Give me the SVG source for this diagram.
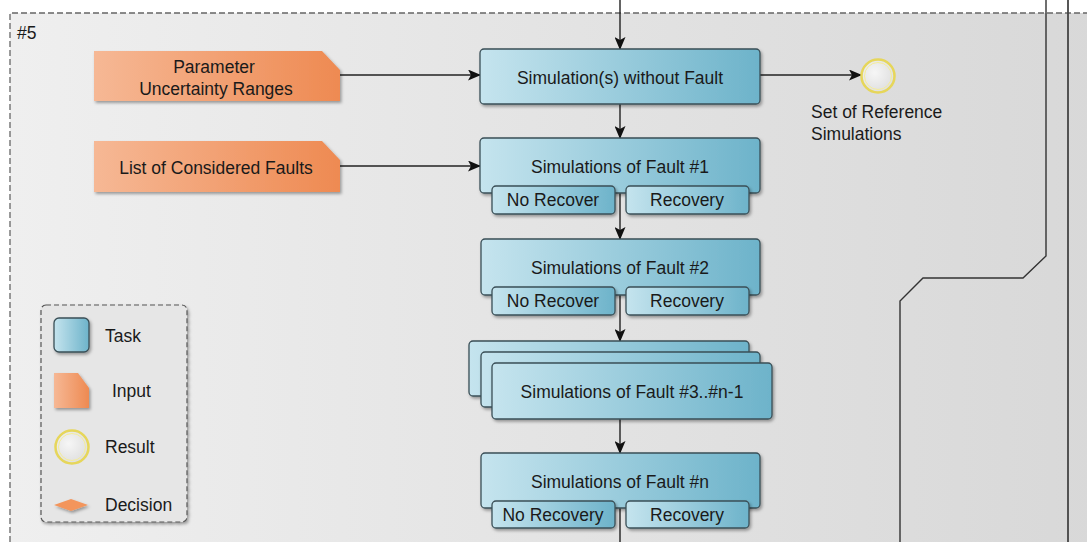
<svg xmlns="http://www.w3.org/2000/svg" width="1087" height="542" viewBox="0 0 1087 542">
<defs>
<linearGradient id="bg" x1="0" y1="0" x2="1" y2="0">
<stop offset="0" stop-color="#efefef"/><stop offset="1" stop-color="#d8d8d8"/>
</linearGradient>
<linearGradient id="task" x1="0" y1="0" x2="1" y2="0">
<stop offset="0" stop-color="#c5e4ee"/><stop offset="1" stop-color="#6db3ca"/>
</linearGradient>
<linearGradient id="inp" x1="0" y1="0" x2="1" y2="0">
<stop offset="0" stop-color="#f6b895"/><stop offset="1" stop-color="#ee8a52"/>
</linearGradient>
<radialGradient id="res" cx="0.4" cy="0.4" r="0.7">
<stop offset="0" stop-color="#f6f6f6"/><stop offset="1" stop-color="#dcdcdc"/>
</radialGradient>
<filter id="sh" x="-10%" y="-10%" width="130%" height="140%">
<feDropShadow dx="1.5" dy="2" stdDeviation="1.5" flood-color="#000" flood-opacity="0.35"/>
</filter>
<marker id="arr" markerWidth="13" markerHeight="11" refX="12" refY="5.5" orient="auto" markerUnits="userSpaceOnUse">
<path d="M0,0 L13,5.5 L0,11 L3,5.5 Z" fill="#111"/>
</marker>
</defs>
<style>
.t{font-family:"Liberation Sans",Arial,sans-serif;font-size:17.5px;fill:#1a1a1a}
.s{font-family:"Liberation Sans",Arial,sans-serif;font-size:17.5px;fill:#1a1a1a}
.task{fill:url(#task);stroke:#3a4f57;stroke-width:1.3;filter:url(#sh)}
.inp{fill:url(#inp);filter:url(#sh)}
.ln{stroke:#222;stroke-width:1.4;fill:none}
.ln2{stroke:#333;stroke-width:1.4;fill:none}
.rc{fill:url(#res);stroke:#e6d65a;stroke-width:2.5}
.ri{fill:none;stroke:#f5ed9a;stroke-width:1}
</style>
<rect x="0" y="0" width="1087" height="542" fill="#ffffff"/>
<rect x="10" y="13" width="1090" height="540" fill="url(#bg)"/>
<path d="M10,542 L10,13 L1087,13" fill="none" stroke="#666" stroke-width="1.3" stroke-dasharray="6,3"/>
<text class="s" x="17" y="39">#5</text>

<g id="connectors">
<line class="ln" x1="620" y1="0" x2="620" y2="49" marker-end="url(#arr)"/>
<line class="ln" x1="340" y1="75" x2="480" y2="75" marker-end="url(#arr)"/>
<line class="ln" x1="760" y1="75" x2="861" y2="75" marker-end="url(#arr)"/>
<line class="ln" x1="620" y1="104" x2="620" y2="138" marker-end="url(#arr)"/>
<line class="ln" x1="340" y1="166" x2="480" y2="166" marker-end="url(#arr)"/>
<line class="ln" x1="620" y1="186" x2="620" y2="239" marker-end="url(#arr)"/>
<line class="ln" x1="620" y1="287" x2="620" y2="341" marker-end="url(#arr)"/>
<line class="ln" x1="620" y1="419" x2="620" y2="453" marker-end="url(#arr)"/>
<line class="ln" x1="620" y1="501" x2="620" y2="542"/>
<polyline class="ln2" points="1046,0 1046,256 1023,278 923,278 900,301 900,542"/>
<line x1="1068" y1="0" x2="1068" y2="542" stroke="#444" stroke-width="1.8"/>
</g>

<g id="input-params">
<path class="inp" d="M94,51 L322,51 L340,70 L340,101 L94,101 Z"/>
<text class="t" x="214" y="73" text-anchor="middle">Parameter</text>
<text class="t" x="216" y="95" text-anchor="middle">Uncertainty Ranges</text>
</g>
<g id="input-faults">
<path class="inp" d="M94,141 L322,141 L340,160 L340,192 L94,192 Z"/>
<text class="t" x="216" y="174" text-anchor="middle">List of Considered Faults</text>
</g>

<g id="task-nofault">
<rect class="task" x="480" y="49" width="280" height="55" rx="4"/>
<text class="t" x="620" y="84" text-anchor="middle">Simulation(s) without Fault</text>
</g>

<g id="result-ref">
<circle class="rc" cx="878" cy="76" r="16.5"/>
<circle class="ri" cx="878" cy="76" r="13.5"/>
<text class="s" x="811" y="118">Set of Reference</text>
<text class="s" x="811" y="140">Simulations</text>
</g>

<g id="task-fault1">
<rect class="task" x="480" y="138" width="280" height="55" rx="4"/>
<text class="t" x="620" y="173" text-anchor="middle">Simulations of Fault #1</text>
<rect class="task" x="492" y="186" width="123" height="28" rx="4"/>
<text class="s" x="553" y="206" text-anchor="middle">No Recover</text>
<rect class="task" x="626" y="186" width="123" height="28" rx="4"/>
<text class="s" x="687" y="206" text-anchor="middle">Recovery</text>
</g>

<g id="task-fault2">
<rect class="task" x="481" y="239" width="279" height="56" rx="4"/>
<text class="t" x="620" y="274" text-anchor="middle">Simulations of Fault #2</text>
<rect class="task" x="492" y="287" width="123" height="28" rx="4"/>
<text class="s" x="553" y="307" text-anchor="middle">No Recover</text>
<rect class="task" x="626" y="287" width="123" height="28" rx="4"/>
<text class="s" x="687" y="307" text-anchor="middle">Recovery</text>
</g>

<g id="task-fault3n">
<rect class="task" x="469" y="341" width="280" height="55" rx="4"/>
<rect class="task" x="481" y="352" width="279" height="55" rx="4"/>
<rect class="task" x="492" y="363" width="280" height="56" rx="4"/>
<text class="t" x="632" y="398" text-anchor="middle">Simulations of Fault #3..#n-1</text>
</g>

<g id="task-faultn">
<rect class="task" x="481" y="453" width="279" height="55" rx="4"/>
<text class="t" x="620" y="488" text-anchor="middle">Simulations of Fault #n</text>
<rect class="task" x="492" y="501" width="123" height="27" rx="4"/>
<text class="s" x="553" y="521" text-anchor="middle">No Recovery</text>
<rect class="task" x="626" y="501" width="123" height="27" rx="4"/>
<text class="s" x="687" y="521" text-anchor="middle">Recovery</text>
</g>

<g id="legend">
<rect x="41" y="305" width="146" height="217" rx="5" fill="#e6e6e6" stroke="#555" stroke-width="1.2" stroke-dasharray="5,3" filter="url(#sh)"/>
<rect class="task" x="54" y="318" width="35" height="34" rx="5"/>
<text class="s" x="105" y="342">Task</text>
<path class="inp" d="M54,373 L78,373 L89,388 L89,408 L54,408 Z"/>
<text class="s" x="112" y="397">Input</text>
<circle class="rc" cx="72" cy="447" r="16.5"/>
<circle class="ri" cx="72" cy="447" r="13.5"/>
<text class="s" x="105" y="453">Result</text>
<path d="M54,505 L71,499 L88,505 L71,511 Z" fill="#f3955c" filter="url(#sh)"/>
<text class="s" x="105" y="511">Decision</text>
</g>
</svg>
